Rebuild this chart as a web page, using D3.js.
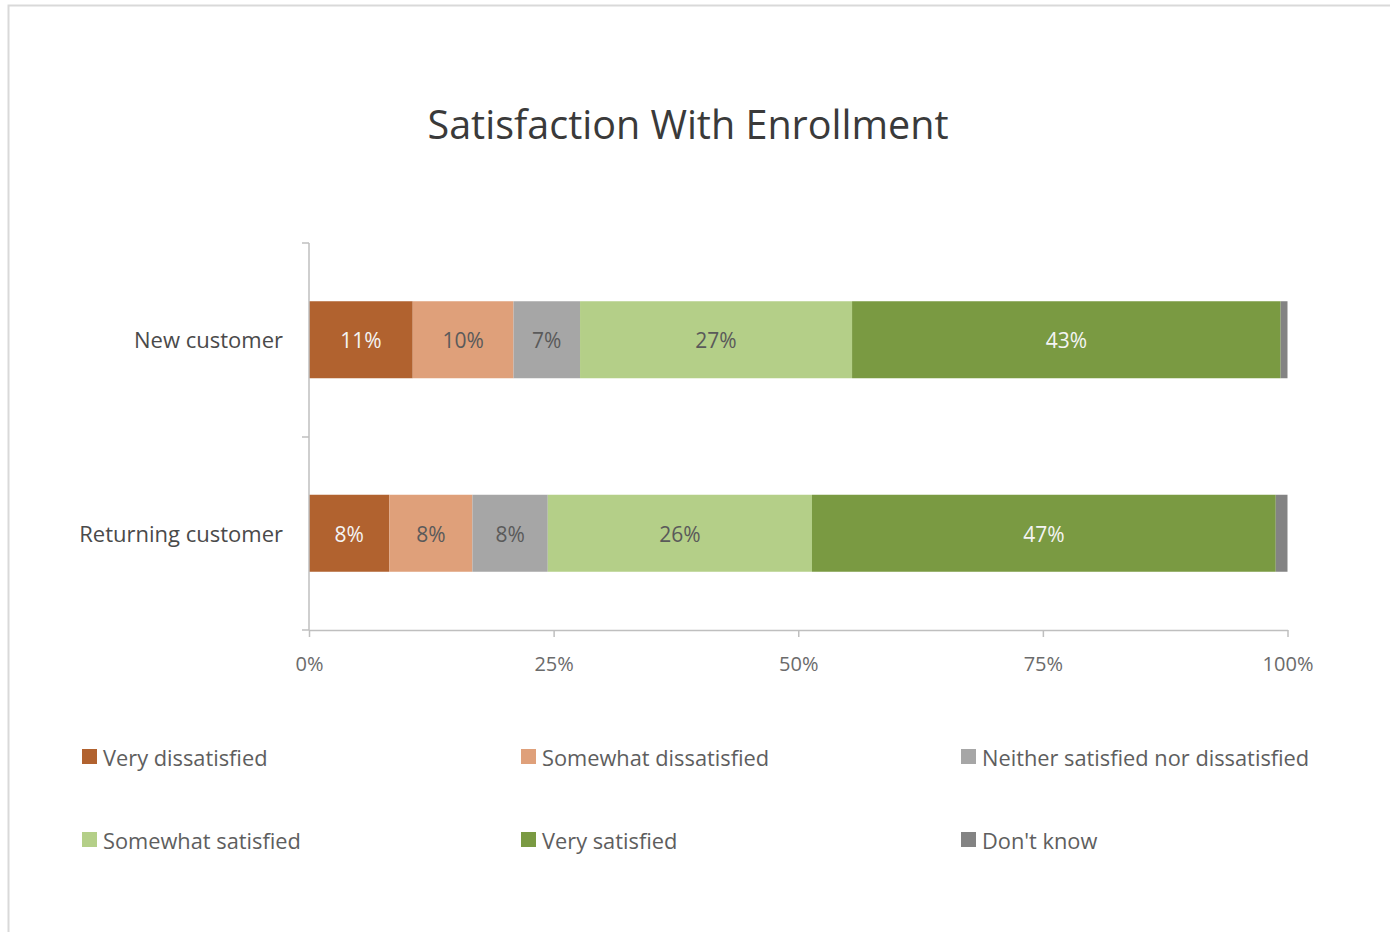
<!DOCTYPE html>
<meta charset="utf-8">
<script src="https://d3js.org/d3.v7.min.js"></script>
<style>
    body { margin: 0; background: #fff; }
    text { font-family: "Open Sans", "Noto Sans", sans-serif; }
</style>
<div id="chart"></div>
<script>

    // data (share of each row, in %)
    const customers = ["New customer", "Returning customer"];
    const answers = ["Very dissatisfied", "Somewhat dissatisfied", "Neither satisfied nor dissatisfied",
        "Somewhat satisfied", "Very satisfied", "Don't know"];
    const newCustomer = [10.6, 10.3, 6.8, 27.8, 43.8, 0.7];
    const returningCustomer = [8.2, 8.5, 7.7, 27.0, 47.4, 1.2];
    // labels as printed on the bars (last slice has none)
    const newLabels = ["11%", "10%", "7%", "27%", "43%", ""];
    const returningLabels = ["8%", "8%", "8%", "26%", "47%", ""];
    const xTicks = [0, 25, 50, 75, 100];

    const colors = ["#b1622f", "#dfa07a", "#a6a6a6", "#b4cf88", "#7a9a42", "#838383"];
    const labelColors = ["#f4f4f4", "#5a5a5a", "#5a5a5a", "#5a5a5a", "#f4f4f4", "#5a5a5a"];

    const W = 1390, H = 932;
    const svg = d3.select("#chart").append("svg")
        .attr("width", W)
        .attr("height", H);

    // faint frame of the chart area
    svg.append("rect")
        .attr("x", 8.5).attr("y", 5.5)
        .attr("width", W + 10).attr("height", H + 10)
        .attr("fill", "none")
        .attr("stroke", "#d9d9d9")
        .attr("stroke-width", 2);

    svg.append("text")
        .attr("x", 688)
        .attr("y", 139)
        .attr("text-anchor", "middle")
        .style("font-size", "39.5px")
        .style("fill", "#3a3a3a")
        .text("Satisfaction With Enrollment");

    const x = d3.scaleLinear().domain([0, 100]).range([309, 1287.5]);
    const y = d3.scaleBand().domain(customers).range([243, 630]);
    const barH = 77;

    // stacked rows
    const rows = customers.map((c, i) => {
        const vals = i === 0 ? newCustomer : returningCustomer;
        const labs = i === 0 ? newLabels : returningLabels;
        let acc = 0;
        return vals.map((v, j) => {
            const d = {customer: c, answer: answers[j], x0: acc, x1: acc + v, label: labs[j], k: j};
            acc += v;
            return d;
        });
    });
    const segs = rows.flat();

    const g = svg.append("g");
    g.selectAll("rect.seg")
        .data(segs)
        .join("rect")
        .attr("class", "seg")
        .attr("x", d => x(d.x0))
        .attr("width", d => x(d.x1) - x(d.x0))
        .attr("y", d => y(d.customer) + y.bandwidth() / 2 - barH / 2)
        .attr("height", barH)
        .attr("fill", d => colors[d.k]);

    g.selectAll("text.lab")
        .data(segs.filter(d => d.label))
        .join("text")
        .attr("class", "lab")
        .attr("x", d => x((d.x0 + d.x1) / 2))
        .attr("y", d => y(d.customer) + y.bandwidth() / 2 + 1)
        .attr("dy", "0.35em")
        .attr("text-anchor", "middle")
        .style("font-size", "21px")
        .style("fill", d => labelColors[d.k])
        .text(d => d.label);

    // x axis
    const xAxis = svg.append("g")
        .attr("transform", "translate(0,630)")
        .call(d3.axisBottom(x).tickValues(xTicks).tickFormat(d => d + "%").tickSizeInner(7).tickSizeOuter(0).tickPadding(20));
    xAxis.select(".domain").attr("stroke", "#bfbfbf").attr("stroke-width", 1.5);
    xAxis.selectAll(".tick line").attr("stroke", "#bfbfbf").attr("stroke-width", 1.5);
    xAxis.selectAll("text")
        .style("font-size", "20px")
        .style("fill", "#6b6b6b")
        .style("font-family", "'Open Sans', sans-serif");

    // y axis: ticks on the band edges, labels at the band centres
    const yAxis = svg.append("g").attr("transform", "translate(309,0)");
    yAxis.append("line")
        .attr("y1", 243).attr("y2", 630)
        .attr("stroke", "#bfbfbf").attr("stroke-width", 1.5);
    yAxis.selectAll("line.tk")
        .data([243, 437, 630])
        .join("line")
        .attr("class", "tk")
        .attr("x1", -7).attr("x2", 0)
        .attr("y1", d => d).attr("y2", d => d)
        .attr("stroke", "#bfbfbf").attr("stroke-width", 1.5);
    yAxis.selectAll("text")
        .data(customers)
        .join("text")
        .attr("x", -26)
        .attr("y", d => y(d) + y.bandwidth() / 2 + 1)
        .attr("dy", "0.35em")
        .attr("text-anchor", "end")
        .style("font-size", "22px")
        .style("fill", "#4a4a4a")
        .text(d => d);

    // legend, 3 columns x 2 rows
    const legX = [82, 521, 961], legY = [757, 840];
    const leg = svg.selectAll("g.leg")
        .data(answers)
        .join("g")
        .attr("class", "leg")
        .attr("transform", (d, i) => `translate(${legX[i % 3]},${legY[Math.floor(i / 3)]})`);
    leg.append("rect")
        .attr("x", 0).attr("y", -8)
        .attr("width", 15).attr("height", 15)
        .attr("fill", (d, i) => colors[i]);
    leg.append("text")
        .attr("x", 21)
        .attr("y", 1)
        .attr("dy", "0.35em")
        .style("font-size", "21.8px")
        .style("fill", "#5e5e5e")
        .text(d => d);

</script>
